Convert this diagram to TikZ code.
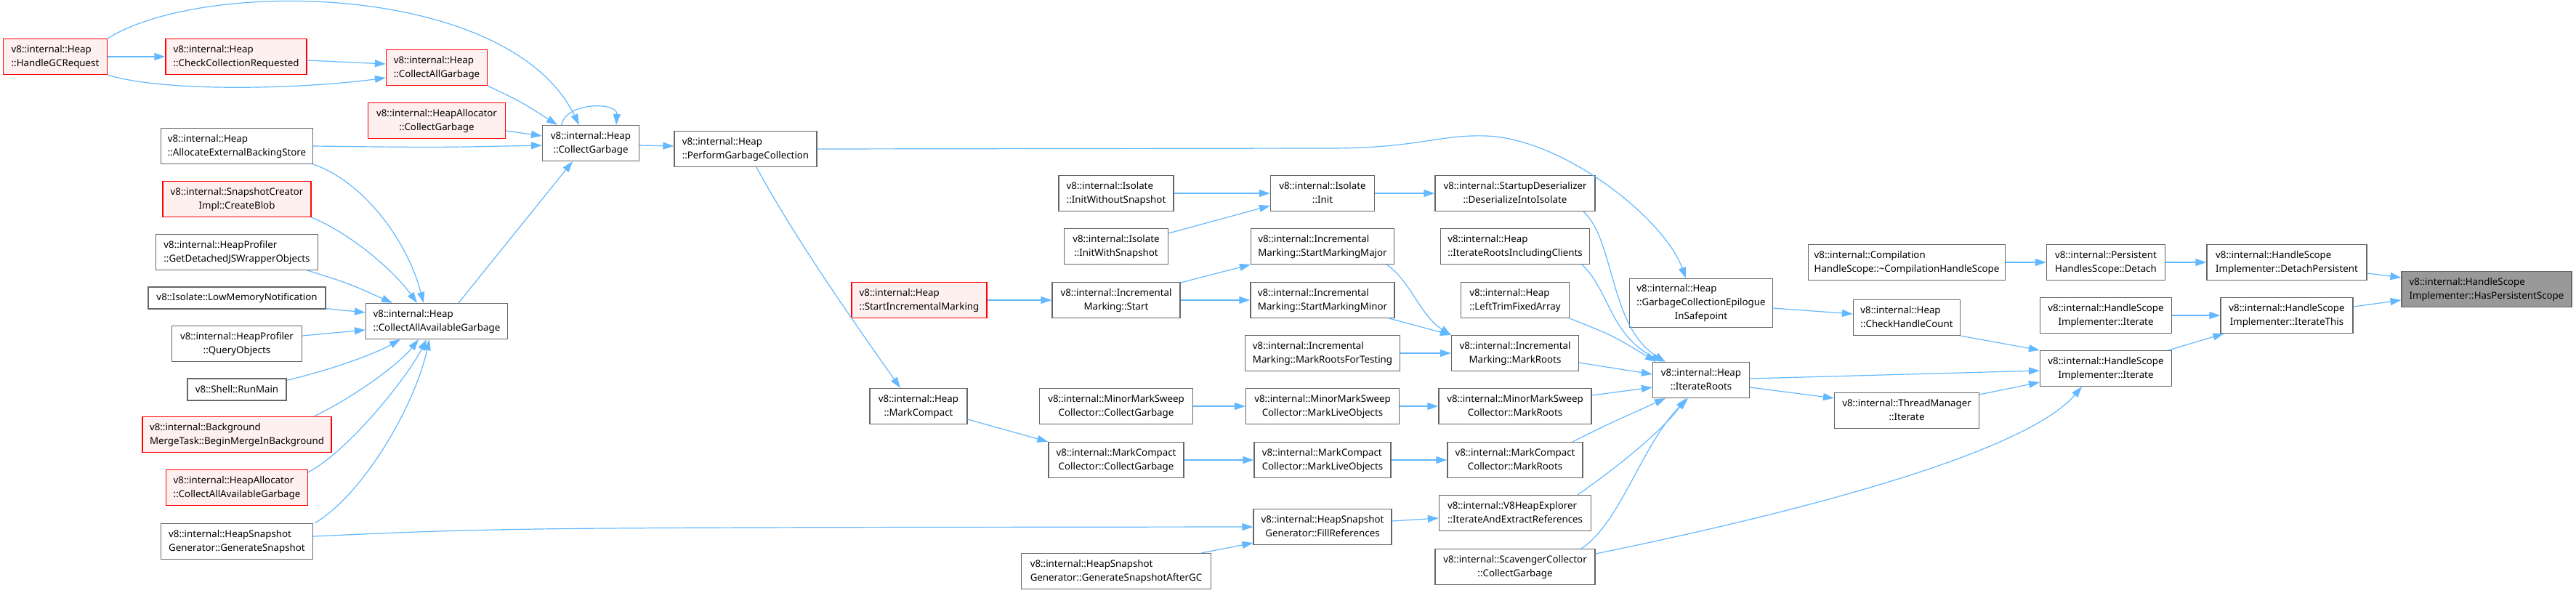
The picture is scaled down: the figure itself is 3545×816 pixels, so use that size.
\documentclass[tikz,border=0pt]{standalone}
\usepackage{fontspec}
\setmainfont{Noto Sans}
\usetikzlibrary{arrows.meta}

\definecolor{edgeblue}{HTML}{63B8FF}
\definecolor{boxgray}{HTML}{666666}
\definecolor{cutfill}{HTML}{FFF0F0}
\definecolor{rootfill}{HTML}{999999}

\newcommand{\twoline}[2]{\begin{tabular}{@{}l@{}}#1\\\multicolumn{1}{@{}c@{}}{#2}\end{tabular}}
\newcommand{\threeline}[3]{\begin{tabular}{@{}l@{}}#1\\#2\\\multicolumn{1}{@{}c@{}}{#3}\end{tabular}}

\begin{document}
\begin{tikzpicture}[
  x=1pt, y=-1pt,
  font=\fontsize{13.3}{19}\selectfont,
  func/.style={draw=boxgray, fill=white, line width=1.2pt, inner xsep=4pt, inner ysep=2pt, minimum height=49pt},
  single/.style={func, minimum height=30pt},
  clipped/.style={func, draw=red, fill=cutfill},
  root/.style={func, fill=rootfill},
  call/.style={-{Triangle[length=15pt,width=10pt]}, line width=1.2pt, draw=edgeblue}
]
\useasboundingbox (0,0) rectangle (3545,816);

\node[clipped, minimum width=143pt] (hgc) at (76,78) {\twoline{v8::internal::Heap}{::HandleGCRequest}};
\node[clipped, minimum width=194pt] (ccr) at (325,78) {\twoline{v8::internal::Heap}{::CheckCollectionRequested}};
\node[clipped, minimum width=139pt] (cag) at (601,93) {\twoline{v8::internal::Heap}{::CollectAllGarbage}};
\node[clipped, minimum width=189pt] (hacg) at (601,166) {\twoline{v8::internal::HeapAllocator}{::CollectGarbage}};
\node[func, minimum width=133pt] (cg) at (813,197) {\twoline{v8::internal::Heap}{::CollectGarbage}};
\node[func, minimum width=209pt] (aebs) at (326,201) {\twoline{v8::internal::Heap}{::AllocateExternalBackingStore}};
\node[clipped, minimum width=204pt] (blob) at (326,274) {\twoline{v8::internal::SnapshotCreator}{Impl::CreateBlob}};
\node[func, minimum width=223pt] (gdjs) at (326,347) {\twoline{v8::internal::HeapProfiler}{::GetDetachedJSWrapperObjects}};
\node[single, minimum width=244pt] (lmn) at (326,410) {v8::Isolate::LowMemoryNotification};
\node[func, minimum width=195pt] (caag) at (601,442) {\twoline{v8::internal::Heap}{::CollectAllAvailableGarbage}};
\node[func, minimum width=179pt] (qo) at (326,473) {\twoline{v8::internal::HeapProfiler}{::QueryObjects}};
\node[single, minimum width=136pt] (rm) at (326,536) {v8::Shell::RunMain};
\node[clipped, minimum width=260pt] (bmt) at (326,598) {\twoline{v8::internal::Background}{MergeTask::BeginMergeInBackground}};
\node[clipped, minimum width=195pt] (hacaag) at (326,671) {\twoline{v8::internal::HeapAllocator}{::CollectAllAvailableGarbage}};
\node[func, minimum width=209pt] (gs) at (326,745) {\twoline{v8::internal::HeapSnapshot}{Generator::GenerateSnapshot}};

\node[func, minimum width=196pt] (pgc) at (1026,205) {\twoline{v8::internal::Heap}{::PerformGarbageCollection}};
\node[clipped, minimum width=186pt] (sim) at (1265,413) {\twoline{v8::internal::Heap}{::StartIncrementalMarking}};
\node[func, minimum width=134pt] (mc) at (1264,559) {\twoline{v8::internal::Heap}{::MarkCompact}};

\node[func, minimum width=158pt] (iws) at (1536,266) {\twoline{v8::internal::Isolate}{::InitWithoutSnapshot}};
\node[func, minimum width=143pt] (iwss) at (1536,339) {\twoline{v8::internal::Isolate}{::InitWithSnapshot}};
\node[func, minimum width=176pt] (ims) at (1536,413) {\twoline{v8::internal::Incremental}{Marking::Start}};
\node[func, minimum width=211pt] (mmscg) at (1536,559) {\twoline{v8::internal::MinorMarkSweep}{Collector::CollectGarbage}};
\node[func, minimum width=186pt] (mccg) at (1536,633) {\twoline{v8::internal::MarkCompact}{Collector::CollectGarbage}};
\node[func, minimum width=261pt] (gsagc) at (1536,786) {\twoline{v8::internal::HeapSnapshot}{Generator::GenerateSnapshotAfterGC}};

\node[func, minimum width=143pt] (init) at (1820,266) {\twoline{v8::internal::Isolate}{::Init}};
\node[func, minimum width=197pt] (smmaj) at (1820,339) {\twoline{v8::internal::Incremental}{Marking::StartMarkingMajor}};
\node[func, minimum width=198pt] (smmin) at (1820,413) {\twoline{v8::internal::Incremental}{Marking::StartMarkingMinor}};
\node[func, minimum width=213pt] (mrft) at (1820,486) {\twoline{v8::internal::Incremental}{Marking::MarkRootsForTesting}};
\node[func, minimum width=211pt] (mmslo) at (1820,559) {\twoline{v8::internal::MinorMarkSweep}{Collector::MarkLiveObjects}};
\node[func, minimum width=188pt] (mcclo) at (1820,633) {\twoline{v8::internal::MarkCompact}{Collector::MarkLiveObjects}};
\node[func, minimum width=190pt] (fr) at (1820,725) {\twoline{v8::internal::HeapSnapshot}{Generator::FillReferences}};

\node[func, minimum width=220pt] (dii) at (2085,266) {\twoline{v8::internal::StartupDeserializer}{::DeserializeIntoIsolate}};
\node[func, minimum width=205pt] (iric) at (2085,339) {\twoline{v8::internal::Heap}{::IterateRootsIncludingClients}};
\node[func, minimum width=149pt] (ltfa) at (2085,413) {\twoline{v8::internal::Heap}{::LeftTrimFixedArray}};
\node[func, minimum width=175pt] (imr) at (2085,486) {\twoline{v8::internal::Incremental}{Marking::MarkRoots}};
\node[func, minimum width=210pt] (mmsmr) at (2085,559) {\twoline{v8::internal::MinorMarkSweep}{Collector::MarkRoots}};
\node[func, minimum width=186pt] (mccmr) at (2085,633) {\twoline{v8::internal::MarkCompact}{Collector::MarkRoots}};
\node[func, minimum width=209pt] (iaer) at (2085,706) {\twoline{v8::internal::V8HeapExplorer}{::IterateAndExtractReferences}};
\node[func, minimum width=220pt] (scg) at (2085,780) {\twoline{v8::internal::ScavengerCollector}{::CollectGarbage}};

\node[func, minimum width=197pt, minimum height=67pt] (gceis) at (2341,417) {\threeline{v8::internal::Heap}{::GarbageCollectionEpilogue}{InSafepoint}};
\node[func, minimum width=133pt] (ir) at (2341,523) {\twoline{v8::internal::Heap}{::IterateRoots}};

\node[func, minimum width=271pt] (chs) at (2624,361) {\twoline{v8::internal::Compilation}{HandleScope::\textasciitilde CompilationHandleScope}};
\node[func, minimum width=147pt] (chc) at (2624,437) {\twoline{v8::internal::Heap}{::CheckHandleCount}};
\node[func, minimum width=199pt] (tmi) at (2624,565) {\twoline{v8::internal::ThreadManager}{::Iterate}};
\node[func, minimum width=163pt] (phsd) at (2898,361) {\twoline{v8::internal::Persistent}{HandlesScope::Detach}};
\node[func, minimum width=181pt] (hsiu) at (2898,434) {\twoline{v8::internal::HandleScope}{Implementer::Iterate}};
\node[func, minimum width=181pt] (hsi) at (2898,507) {\twoline{v8::internal::HandleScope}{Implementer::Iterate}};
\node[func, minimum width=220pt] (dp) at (3147,361) {\twoline{v8::internal::HandleScope}{Implementer::DetachPersistent}};
\node[func, minimum width=182pt] (it) at (3147,434) {\twoline{v8::internal::HandleScope}{Implementer::IterateThis}};
\node[root, minimum width=234pt] (hps) at (3422,398) {\twoline{v8::internal::HandleScope}{Implementer::HasPersistentScope}};

\draw[call] (hgc) -- (ccr);
\draw[call] ([yshift=-5pt]ccr.east) -- ([yshift=5pt]cag.west);
\draw[call] (hgc.south east) .. controls (230,128) and (420,122) .. ([yshift=-14pt]cag.west);
\draw[call] (hgc.north east) .. controls (280,-30) and (700,-25) .. ([xshift=-16pt]cg.north);
\draw[call] (cag.south east) .. controls (717,140) .. ([xshift=-46pt]cg.north);
\draw[call] ([xshift=-40pt]cg.north) .. controls (778,140) and (850,140) .. ([xshift=35pt]cg.north);
\draw[call] ([yshift=-14pt]hacg.east) -- ([yshift=10pt]cg.west);
\draw[call] (aebs.east) .. controls (600,203) .. ([yshift=-3pt]cg.west);
\draw[call] ([xshift=30pt]caag.north) -- ([xshift=-25pt]cg.south);

\draw[call] (aebs.south east) .. controls (500,250) and (560,330) .. ([xshift=-18pt]caag.north);
\draw[call] (blob.south east) .. controls (480,320) and (540,370) .. ([xshift=-27pt]caag.north);
\draw[call] ([xshift=-15pt]gdjs.south east) .. controls (480,390) .. ([xshift=-61pt]caag.north);
\draw[call] ([yshift=1pt]lmn.south east) -- ([yshift=12pt]caag.west);
\draw[call] ([yshift=11pt]qo.east) -- ([yshift=-12pt]caag.west);
\draw[call] ([yshift=-3pt]rm.north east) .. controls (450,510) and (510,490) .. ([xshift=-50pt]caag.south);
\draw[call] ([xshift=106pt]bmt.north) .. controls (490,545) and (550,500) .. ([xshift=-25pt]caag.south);
\draw[call] ([yshift=-4pt]hacaag.north east) .. controls (480,620) and (560,520) .. ([xshift=-14pt]caag.south);
\draw[call] ([xshift=2pt]gs.north east) .. controls (500,680) and (570,560) .. ([xshift=-10pt]caag.south);
\draw[call] ([yshift=7pt]gs.east) .. controls (700,726) .. (fr.west);

\draw[call] ([yshift=-3pt]cg.east) -- ([yshift=4pt]pgc.west);
\draw[call] (pgc.east) -- (1830,204) .. controls (1950,204) and (1980,185) .. (2044,187) .. controls (2150,190) and (2290,300) .. ([xshift=-21pt]gceis.north);
\draw[call] ([xshift=15pt]pgc.south) .. controls (1095,330) and (1180,450) .. ([xshift=-25pt]mc.north);
\draw[call] (sim) -- (ims);
\draw[call] ([yshift=24pt]ims.east) -- (smmaj.south west);
\draw[call] (ims) -- (smmin);
\draw[call] (iws) -- (init);
\draw[call] ([yshift=18pt]iwss.east) -- ([yshift=-17pt]init.west);
\draw[call] (init) -- (dii);

\draw[call] ([xshift=94pt]dii.south) .. controls (2222,330) and (2215,450) .. ([xshift=-49pt]ir.north);
\draw[call] ([xshift=92pt]iric.south) .. controls (2215,400) and (2215,460) .. ([xshift=-53pt]ir.north);
\draw[call] (ltfa.south east) .. controls (2220,462) .. ([xshift=-62pt]ir.north);
\draw[call] ([xshift=-11pt]smmaj.south east) .. controls (1940,385) and (1955,435) .. (imr.north west);
\draw[call] ([xshift=-8pt]smmin.south east) -- (imr.north west);
\draw[call] (mrft) -- (imr);
\draw[call] ([yshift=-13pt]imr.east) -- ([yshift=8pt]ir.west);
\draw[call] (mmscg) -- (mmslo);
\draw[call] (mmslo) -- (mmsmr);
\draw[call] ([yshift=15pt]mmsmr.east) -- ([yshift=-10pt]ir.west);
\draw[call] ([yshift=-18pt]mc.east) -- (mccg.north west);
\draw[call] (mccg) -- (mcclo);
\draw[call] (mcclo) -- (mccmr);
\draw[call] ([xshift=79pt]mccmr.north) .. controls (2210,585) .. ([xshift=-49pt]ir.south);
\draw[call] ([yshift=8pt]fr.east) -- ([yshift=-7pt]iaer.west);
\draw[call] ([xshift=-14pt]gsagc.north east) -- ([yshift=3pt]fr.south west);
\draw[call] ([xshift=86pt]iaer.north) .. controls (2230,640) and (2290,590) .. ([xshift=-21pt]ir.south);
\draw[call] ([xshift=91pt]scg.north) .. controls (2230,720) and (2260,610) .. ([xshift=-18pt]ir.south);
\draw[call] ([yshift=18pt]scg.east) .. controls (2500,700) and (2790,620) .. ([xshift=-33pt]hsi.south);

\draw[call] ([yshift=-7pt]gceis.east) -- ([yshift=5pt]chc.west);
\draw[call] ([yshift=2pt]ir.east) -- ([yshift=-3pt]hsi.west);
\draw[call] ([yshift=-10pt]ir.east) -- ([yshift=-8pt]tmi.north west);
\draw[call] (chc.south east) -- (hsi.north west);
\draw[call] ([yshift=-3pt]tmi.north east) -- ([yshift=-19pt]hsi.west);
\draw[call] (hsiu) -- (it);
\draw[call] ([xshift=-5pt]hsi.north east) -- ([xshift=5pt]it.south west);
\draw[call] ([yshift=12pt]it.east) -- ([yshift=-15pt]hps.west);
\draw[call] ([yshift=-15pt]dp.east) -- ([yshift=16pt]hps.west);
\draw[call] (chs) -- (phsd);
\draw[call] (phsd) -- (dp);
\end{tikzpicture}
\end{document}
